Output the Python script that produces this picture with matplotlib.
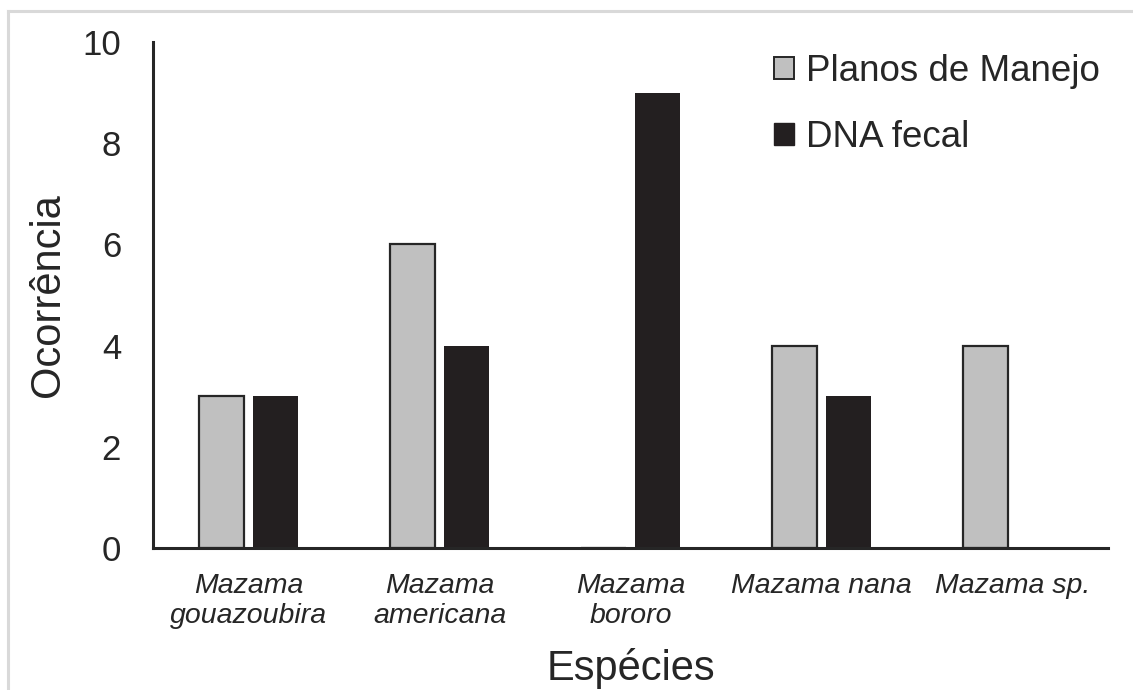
import matplotlib
matplotlib.use("Agg")
import matplotlib.pyplot as plt
from matplotlib.lines import Line2D
from matplotlib.patches import Patch
import numpy as np

# Data
species = ["Mazama\ngouazoubira", "Mazama\namericana", "Mazama\nbororo",
           "Mazama nana", "Mazama sp."]
planos_manejo = [3, 6, 0, 4, 4]
dna_fecal = [3, 4, 9, 3, 0]
series_names = ["Planos de Manejo", "DNA fecal"]

plt.rcParams["font.family"] = ["Liberation Sans", "DejaVu Sans"]
text_color = "#262626"

fig = plt.figure(figsize=(11.33, 6.90), dpi=100)
ax = fig.add_axes([153 / 1133, 1 - 548 / 690, (1108 - 153) / 1133, (548 - 42) / 690])

x = np.arange(len(species))
width = 0.235
offset = 0.142
light = "#c0c0c0"
dark = "#231f20"

ax.bar(x - offset, planos_manejo, width, color=light, edgecolor="#262626",
       linewidth=1.6, zorder=2)
ax.bar(x + offset, dna_fecal, width, color=dark, edgecolor=dark,
       linewidth=0, zorder=2)

ax.set_xlim(-0.5, len(species) - 0.5)
ax.set_ylim(0, 10)
ax.set_yticks(range(0, 11, 2))
ax.set_xticks(x)
ax.set_xticklabels(species, fontsize=20.5, style="italic", color=text_color,
                   linespacing=1.2)
ax.tick_params(axis="y", length=0, pad=23, labelsize=25, labelcolor=text_color)
ax.tick_params(axis="x", length=0, pad=18)

for side in ("top", "right"):
    ax.spines[side].set_visible(False)
for side in ("left", "bottom"):
    ax.spines[side].set_color(text_color)
    ax.spines[side].set_linewidth(2.2)
    ax.spines[side].set_zorder(3)

ax.set_ylabel("Ocorrência", fontsize=30, color=text_color, labelpad=10)
ax.set_xlabel("Espécies", fontsize=30, color=text_color, labelpad=14)

handles = [Patch(facecolor=light, edgecolor="#262626", linewidth=1.4),
           Patch(facecolor=dark, edgecolor=dark)]
leg = ax.legend(handles, series_names, loc="upper right", frameon=False,
                fontsize=26.5, handlelength=0.55, handleheight=0.55,
                handletextpad=0.33, labelspacing=0.84,
                bbox_to_anchor=(1.007, 1.005), borderaxespad=0)
for t in leg.get_texts():
    t.set_color(text_color)

# light frame around the figure
fig.add_artist(Line2D([8 / 1133, 1], [1 - 11 / 690, 1 - 11 / 690],
                      transform=fig.transFigure, color="#d9d9d9", linewidth=2.2))
fig.add_artist(Line2D([8 / 1133, 8 / 1133], [0, 1 - 11 / 690],
                      transform=fig.transFigure, color="#d9d9d9", linewidth=2.2))

fig.savefig("out.png", dpi=100)
